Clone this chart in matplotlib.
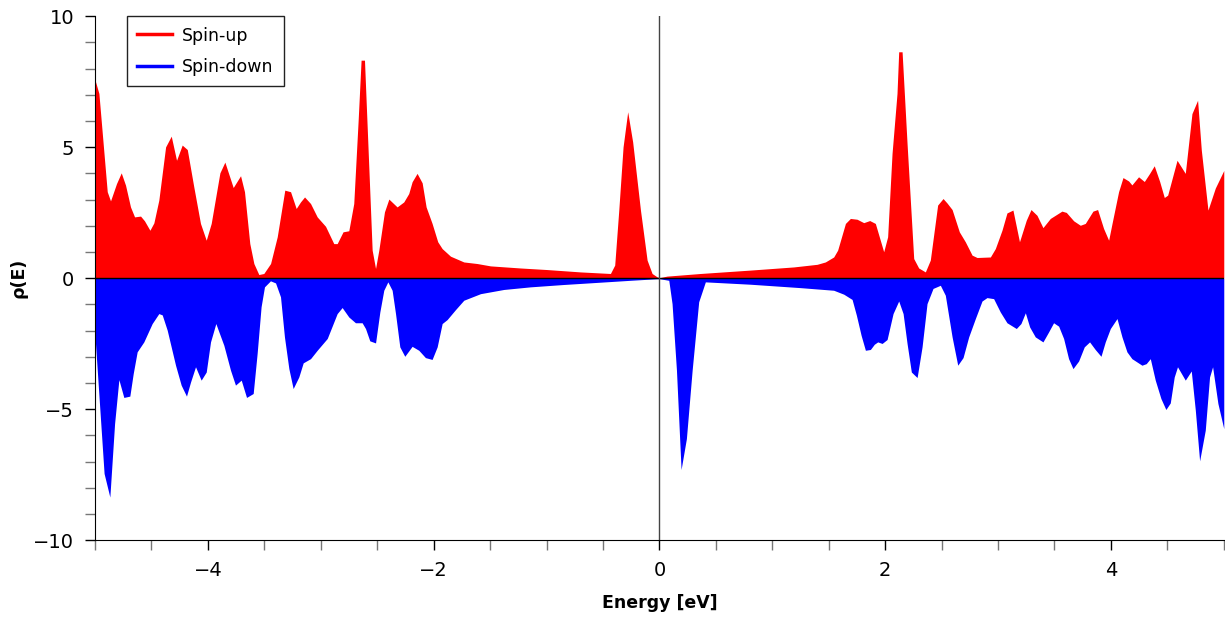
import numpy as np
import matplotlib.pyplot as plt
from matplotlib.ticker import MultipleLocator

plt.rcParams['font.family'] = ['DejaVu Sans']

# spin-up density of states
E_up = [-5.0, -4.966, -4.892, -4.863, -4.81, -4.768, -4.73, -4.686, -4.65, -4.597,
        -4.562, -4.514, -4.479, -4.435, -4.375, -4.325, -4.278, -4.228, -4.183, -4.125,
        -4.066, -4.015, -3.971, -3.894, -3.85, -3.776, -3.711, -3.676, -3.629, -3.593,
        -3.549, -3.505, -3.445, -3.386, -3.319, -3.268, -3.218, -3.18, -3.144, -3.091,
        -3.032, -2.958, -2.885, -2.855, -2.803, -2.752, -2.708, -2.669, -2.643, -2.613,
        -2.545, -2.515, -2.486, -2.436, -2.397, -2.324, -2.265, -2.221, -2.191, -2.147,
        -2.102, -2.067, -2.014, -1.964, -1.925, -1.851, -1.733, -1.615, -1.497, -1.231,
        -0.995, -0.70, -0.434, -0.396, -0.36, -0.322, -0.281, -0.237, -0.168, -0.109,
        -0.065, -0.02, 0.0, 0.068, 0.363, 0.806, 1.19, 1.397, 1.47, 1.544,
        1.579, 1.648, 1.692, 1.751, 1.81, 1.863, 1.913, 1.987, 2.022, 2.061,
        2.105, 2.12, 2.15, 2.194, 2.253, 2.297, 2.356, 2.40, 2.465, 2.513,
        2.548, 2.593, 2.657, 2.71, 2.77, 2.814, 2.932, 2.976, 3.035, 3.079,
        3.132, 3.19, 3.25, 3.292, 3.345, 3.398, 3.463, 3.566, 3.605, 3.67,
        3.729, 3.773, 3.841, 3.882, 3.935, 3.98, 4.01, 4.068, 4.107, 4.157,
        4.186, 4.245, 4.296, 4.343, 4.384, 4.432, 4.473, 4.503, 4.586, 4.659,
        4.718, 4.768, 4.801, 4.86, 4.925, 5.0]
dos_up = [7.56, 7.05, 3.30, 2.95, 3.61, 4.02, 3.55, 2.72, 2.34, 2.37,
          2.19, 1.83, 2.11, 2.98, 5.01, 5.42, 4.50, 5.08, 4.91, 3.48,
          2.09, 1.45, 2.09, 4.02, 4.43, 3.46, 3.91, 3.30, 1.32, 0.56,
          0.14, 0.18, 0.56, 1.58, 3.36, 3.30, 2.66, 2.91, 3.10, 2.85,
          2.34, 1.98, 1.32, 1.32, 1.77, 1.81, 2.85, 6.03, 8.32, 8.32,
          1.07, 0.37, 1.07, 2.53, 3.02, 2.72, 2.91, 3.23, 3.68, 4.00,
          3.64, 2.72, 2.09, 1.39, 1.13, 0.84, 0.62, 0.56, 0.47, 0.39,
          0.33, 0.24, 0.18, 0.50, 2.60, 5.01, 6.35, 5.20, 2.60, 0.69,
          0.18, 0.05, 0.02, 0.08, 0.18, 0.31, 0.43, 0.53, 0.62, 0.81,
          1.07, 2.09, 2.28, 2.25, 2.12, 2.20, 2.09, 1.01, 1.58, 4.76,
          7.05, 8.64, 8.64, 5.14, 0.75, 0.39, 0.24, 0.69, 2.79, 3.04,
          2.87, 2.62, 1.77, 1.39, 0.88, 0.79, 0.81, 1.13, 1.83, 2.49,
          2.60, 1.39, 2.21, 2.62, 2.40, 1.93, 2.28, 2.56, 2.51, 2.19,
          2.02, 2.09, 2.56, 2.62, 1.90, 1.45, 2.09, 3.30, 3.84, 3.71,
          3.56, 3.87, 3.69, 4.00, 4.29, 3.69, 3.08, 3.17, 4.50, 4.00,
          6.28, 6.79, 4.89, 2.60, 3.44, 4.11]

# spin-down density of states
E_dn = [-5.0, -4.92, -4.869, -4.827, -4.789, -4.745, -4.692, -4.662, -4.627, -4.568,
        -4.494, -4.435, -4.405, -4.361, -4.287, -4.237, -4.19, -4.154, -4.11, -4.06,
        -4.015, -3.977, -3.93, -3.859, -3.80, -3.756, -3.705, -3.658, -3.599, -3.564,
        -3.529, -3.499, -3.446, -3.401, -3.357, -3.322, -3.283, -3.245, -3.195, -3.156,
        -3.091, -3.032, -2.943, -2.855, -2.811, -2.752, -2.693, -2.634, -2.604, -2.566,
        -2.515, -2.477, -2.442, -2.406, -2.368, -2.338, -2.30, -2.256, -2.191, -2.132,
        -2.073, -2.014, -1.969, -1.925, -1.881, -1.807, -1.733, -1.585, -1.379, -1.143,
        -0.848, -0.552, -0.257, -0.02, 0.0, 0.083, 0.112, 0.151, 0.192, 0.239,
        0.29, 0.348, 0.407, 0.806, 1.249, 1.544, 1.633, 1.707, 1.745, 1.787,
        1.825, 1.869, 1.904, 1.934, 1.973, 2.017, 2.07, 2.12, 2.159, 2.194,
        2.232, 2.283, 2.327, 2.371, 2.424, 2.489, 2.533, 2.593, 2.643, 2.69,
        2.74, 2.799, 2.858, 2.902, 2.961, 3.02, 3.079, 3.162, 3.203, 3.242,
        3.28, 3.33, 3.398, 3.448, 3.492, 3.537, 3.581, 3.625, 3.664, 3.714,
        3.764, 3.811, 3.861, 3.912, 3.95, 3.995, 4.054, 4.098, 4.142, 4.186,
        4.275, 4.313, 4.349, 4.393, 4.443, 4.487, 4.526, 4.561, 4.59, 4.659,
        4.712, 4.748, 4.786, 4.836, 4.874, 4.901, 4.948, 5.0]
dos_dn = [-2.24, -7.45, -8.35, -5.55, -3.87, -4.55, -4.50, -3.64, -2.81, -2.43,
          -1.73, -1.35, -1.40, -1.98, -3.32, -4.08, -4.50, -3.96, -3.38, -3.89,
          -3.58, -2.43, -1.73, -2.56, -3.51, -4.08, -3.89, -4.55, -4.40, -2.87,
          -1.09, -0.33, -0.10, -0.18, -0.71, -2.24, -3.45, -4.21, -3.77, -3.23,
          -3.07, -2.75, -2.30, -1.35, -1.12, -1.48, -1.70, -1.70, -1.92, -2.39,
          -2.47, -1.29, -0.46, -0.14, -0.46, -1.35, -2.62, -2.98, -2.60, -2.75,
          -3.03, -3.10, -2.62, -1.73, -1.58, -1.20, -0.84, -0.59, -0.43, -0.33,
          -0.24, -0.16, -0.08, -0.02, -0.02, -0.08, -0.97, -3.51, -7.30, -6.12,
          -3.51, -0.90, -0.14, -0.23, -0.36, -0.46, -0.61, -0.81, -1.41, -2.18,
          -2.75, -2.72, -2.52, -2.43, -2.49, -2.34, -1.35, -0.87, -1.35, -2.49,
          -3.58, -3.79, -2.62, -0.97, -0.39, -0.27, -0.65, -2.24, -3.32, -3.03,
          -2.24, -1.54, -0.87, -0.74, -0.78, -1.29, -1.70, -1.92, -1.73, -1.32,
          -1.86, -2.24, -2.43, -2.05, -1.70, -1.83, -2.30, -3.07, -3.45, -3.16,
          -2.62, -2.43, -2.72, -2.98, -2.43, -1.92, -1.54, -2.24, -2.81, -3.07,
          -3.32, -3.26, -3.07, -3.89, -4.59, -5.01, -4.76, -3.77, -3.38, -3.89,
          -3.54, -5.04, -6.97, -5.80, -3.77, -3.38, -4.78, -5.74]

fig = plt.figure(figsize=(12.25, 6.21), dpi=100)
ax = fig.add_axes([0.0776, 0.130, 0.9214, 0.844])

ax.fill_between(E_up, dos_up, 0, color='#ff0000', lw=0)
ax.fill_between(E_dn, dos_dn, 0, color='#0000ff', lw=0)
ax.plot([], [], color='#ff0000', lw=2.5, label='Spin-up')
ax.plot([], [], color='#0000ff', lw=2.5, label='Spin-down')
ax.axhline(0, color='black', lw=1)
ax.axvline(0, color='#444444', lw=1)

ax.set_xlim(-5, 5)
ax.set_ylim(-10, 10)
ax.xaxis.set_major_locator(MultipleLocator(2))
ax.xaxis.set_minor_locator(MultipleLocator(0.5))
ax.yaxis.set_major_locator(MultipleLocator(5))
ax.yaxis.set_minor_locator(MultipleLocator(1))
ax.tick_params(which='major', length=7, width=1, labelsize=14, pad=8)
ax.tick_params(which='minor', length=7, width=1, color='#777777')
for s in ['top', 'right']:
    ax.spines[s].set_visible(False)

ax.set_xlabel('Energy [eV]', fontsize=12.5, fontweight='bold', labelpad=10)
ax.set_ylabel('ρ(E)', fontsize=12.5, fontweight='bold', labelpad=4)

leg = ax.legend(loc='upper left', bbox_to_anchor=(0.028, 1.0), fontsize=12.5,
                fancybox=False, framealpha=1, edgecolor='#222222', handlelength=2.0,
                handletextpad=0.6, borderaxespad=0, borderpad=0.6, labelspacing=0.75)
leg.get_frame().set_linewidth(1)

fig.savefig('out.png', dpi=100)
